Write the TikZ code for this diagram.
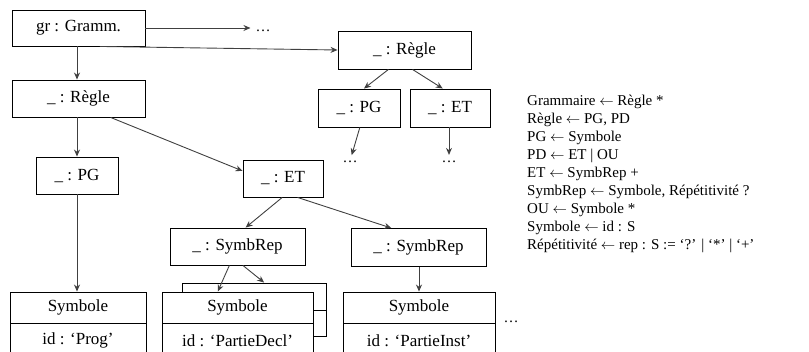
\documentclass[tikz,border=0pt]{standalone}
\usepackage{fontspec}
\setmainfont{Liberation Serif}
\usetikzlibrary{arrows.meta, calc}

\tikzset{
    objbox/.style={draw, fill=white, line width=0.9pt, inner sep=0pt, font=\fontsize{17}{20}\selectfont},
    link/.style={draw=black!75, line width=0.9pt, -{Stealth[length=7pt, width=6pt]}},
    dots/.style={inner sep=0pt, font=\fontsize{15}{18}\selectfont}
}
\newcommand{\lar}{\ensuremath{\leftarrow}}

\begin{document}
\begin{tikzpicture}[x=1pt, y=-1pt]
\useasboundingbox (0,0) rectangle (809,351);

% object nodes
\node (gr) [objbox, minimum width=133, minimum height=36] at (78.5,28) {gr : Gramm.};
\node (regle_a) [objbox, minimum width=133, minimum height=37] at (78.5,98.5) {\_ : Règle};
\node (regle_b) [objbox, minimum width=133, minimum height=38] at (404.5,50) {\_ : Règle};
\node (pg_b) [objbox, minimum width=82, minimum height=38] at (359,108) {\_ : PG};
\node (et_b) [objbox, minimum width=80, minimum height=38] at (450,108) {\_ : ET};
\node (pg_a) [objbox, minimum width=82, minimum height=37] at (77,175.5) {\_ : PG};
\node (et_a) [objbox, minimum width=80, minimum height=37] at (283,178.5) {\_ : ET};
\node (symbrep_a) [objbox, minimum width=135, minimum height=37] at (237.5,246.5) {\_ : SymbRep};
\node (symbrep_b) [objbox, minimum width=135, minimum height=38] at (418.5,247.5) {\_ : SymbRep};

% back box behind the second symbol
\node (rep_box) [objbox, minimum width=144, minimum height=53] at (254,309.5) {};
\draw[line width=0.9pt] (rep_box.west |- 0,310) -- (rep_box.east |- 0,310);

% symbol boxes
\node (symbole_a) [objbox, minimum width=136, minimum height=31] at (78,307.5) {Symbole};
\node (id_a) [objbox, minimum width=136, minimum height=33, anchor=north] at (symbole_a.south) {id : ‘Prog’};
\node (symbole_b) [objbox, minimum width=151, minimum height=31] at (237.5,307.5) {Symbole};
\node (id_b) [objbox, minimum width=151, minimum height=33, anchor=north] at (symbole_b.south) {id : ‘PartieDecl’};
\node (symbole_c) [objbox, minimum width=152, minimum height=31] at (419,307.5) {Symbole};
\node (id_c) [objbox, minimum width=152, minimum height=33, anchor=north] at (symbole_c.south) {id : ‘PartieInst’};

% ellipses
\node (dots_gr) [dots] at (263,31) {…};
\node (dots_pg) [dots] at (350,162) {…};
\node (dots_et) [dots] at (449,162) {…};
\node (dots_sym) [dots] at (511,322) {…};

% grammar
\node (grammar) [anchor=west, align=left, inner sep=0pt, font=\fontsize{15}{18}\selectfont] at (527,174) {Grammaire \lar{} Règle *\\
Règle \lar{} PG, PD\\
PG \lar{} Symbole\\
PD \lar{} ET | OU\\
ET \lar{} SymbRep +\\
SymbRep \lar{} Symbole, Répétitivité ?\\
OU \lar{} Symbole *\\
Symbole \lar{} id : S\\
Répétitivité \lar{} rep : S := ‘?’ | ‘*’ | ‘+’};

\draw[link] (gr.east) -- ++(105,0) coordinate (gr_end);
\draw[link] ($(gr.south west)!.66!(gr.south east)$) -- (regle_b.west);
\draw[link] (gr.south -| pg_a.north) -- (regle_a.north -| pg_a.north);
\draw[link] (regle_a.south -| pg_a.north) -- (pg_a.north);
\draw[link] ($(regle_a.south west)!.74!(regle_a.south east)$) -- ($(et_a.north west)!.3!(et_a.south west)$);
\draw[link] ($(regle_b.south west)!.38!(regle_b.south east)$) -- ($(pg_b.north west)!.56!(pg_b.north east)$);
\draw[link] ($(regle_b.south west)!.56!(regle_b.south east)$) -- ($(et_b.north west)!.41!(et_b.north east)$);
\draw[link, shorten >=6pt] ($(pg_b.south west)!.51!(pg_b.south east)$) -- (dots_pg.north);
\draw[link, shorten >=6pt] (et_b.south -| dots_et.north) -- (dots_et.north);
\draw[link] (pg_a.south) -- (symbole_a.north -| pg_a.south);
\draw[link] ($(et_a.south west)!.49!(et_a.south east)$) -- ($(symbrep_a.north west)!.56!(symbrep_a.north east)$);
\draw[link] ($(et_a.south west)!.68!(et_a.south east)$) -- ($(symbrep_b.north west)!.3!(symbrep_b.north east)$);
\draw[link] ($(symbrep_a.south west)!.44!(symbrep_a.south east)$) -- ($(symbole_b.north west)!.37!(symbole_b.north east)$);
\draw[link] ($(symbrep_a.south west)!.54!(symbrep_a.south east)$) -- ($(rep_box.north west)!.57!(rep_box.north east)$);
\draw[link] (symbrep_b.south -| symbole_c.north) -- (symbole_c.north);
\end{tikzpicture}
\end{document}
